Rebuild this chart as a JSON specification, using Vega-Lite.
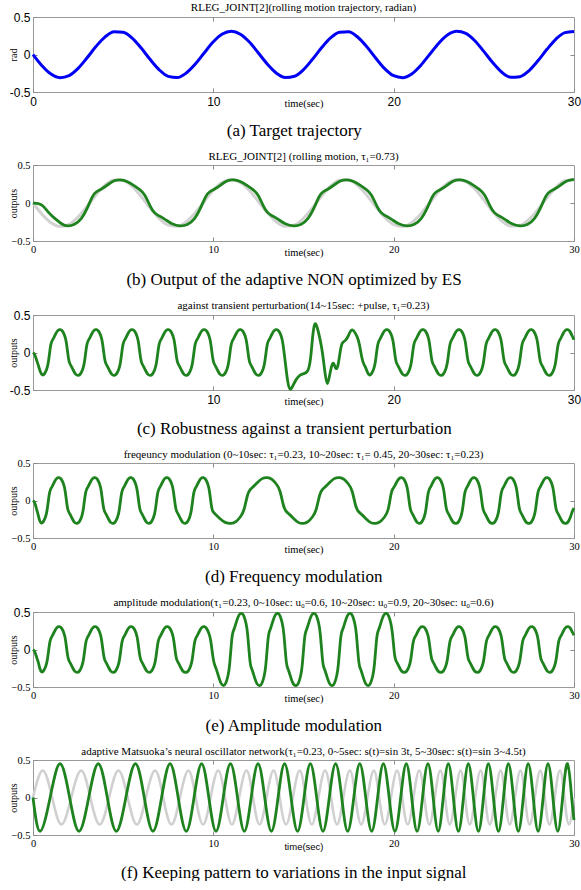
{
"$schema": "https://vega.github.io/schema/vega-lite/v6.json",
"padding": {"left": 7, "top": 1, "right": 0, "bottom": 0},
"spacing": 11,
"config": {
 "view": {"stroke": "#9a9a9a", "strokeWidth": 1},
 "axis": {"domain": false, "grid": false, "tickColor": "#8a8a8a", "tickSize": -4, "labelColor": "#000", "titleColor": "#000", "titleFontWeight": "normal", "labelFlush": false, "labelOverlap": false, "labelBound": false},
 "title": {"color": "#000"}
},
"datasets": {
"a": [{"t":0,"y":0},{"t":0.5,"y":-0.149},{"t":1,"y":-0.261},{"t":1.5,"y":-0.309},{"t":2,"y":-0.282},{"t":2.5,"y":-0.185},{"t":3,"y":-0.044},{"t":3.5,"y":0.109},{"t":4,"y":0.235},{"t":4.5,"y":0.303},{"t":5,"y":0.297},{"t":5.5,"y":0.219},{"t":6,"y":0.086},{"t":6.5,"y":-0.067},{"t":7,"y":-0.204},{"t":7.5,"y":-0.291},{"t":8,"y":-0.307},{"t":8.5,"y":-0.247},{"t":9,"y":-0.128},{"t":9.5,"y":0.023},{"t":10,"y":0.169},{"t":10.5,"y":0.273},{"t":11,"y":0.31},{"t":11.5,"y":0.271},{"t":12,"y":0.166},{"t":12.5,"y":0.02},{"t":13,"y":-0.13},{"t":13.5,"y":-0.249},{"t":14,"y":-0.307},{"t":14.5,"y":-0.29},{"t":15,"y":-0.202},{"t":15.5,"y":-0.064},{"t":16,"y":0.089},{"t":16.5,"y":0.221},{"t":17,"y":0.298},{"t":17.5,"y":0.303},{"t":18,"y":0.233},{"t":18.5,"y":0.106},{"t":19,"y":-0.047},{"t":19.5,"y":-0.188},{"t":20,"y":-0.283},{"t":20.5,"y":-0.309},{"t":21,"y":-0.259},{"t":21.5,"y":-0.146},{"t":22,"y":0.003},{"t":22.5,"y":0.151},{"t":23,"y":0.262},{"t":23.5,"y":0.309},{"t":24,"y":0.281},{"t":24.5,"y":0.184},{"t":25,"y":0.041},{"t":25.5,"y":-0.111},{"t":26,"y":-0.237},{"t":26.5,"y":-0.304},{"t":27,"y":-0.296},{"t":27.5,"y":-0.217},{"t":28,"y":-0.084},{"t":28.5,"y":0.069},{"t":29,"y":0.206},{"t":29.5,"y":0.292},{"t":30,"y":0.306}],
"b": [{"t":0,"y":0},{"t":0.3,"y":-0.005},{"t":0.55,"y":-0.03},{"t":0.8,"y":-0.11},{"t":1.05,"y":-0.17},{"t":1.35,"y":-0.23},{"t":1.6,"y":-0.28},{"t":1.9,"y":-0.31},
{"t":2.3,"y":-0.29},{"t":2.7,"y":-0.21},{"t":3.0,"y":-0.08},{"t":3.3,"y":0.1},{"t":3.5,"y":0.15},{"t":3.8,"y":0.18},{"t":4.2,"y":0.25},{"t":4.5,"y":0.3},{"t":4.85,"y":0.31},{"t":5.2,"y":0.29},{"t":5.6,"y":0.23},{"t":5.9,"y":0.18},{"t":6.2,"y":0.12},{"t":6.5,"y":-0.05},{"t":6.75,"y":-0.14},{"t":7.0,"y":-0.17},{"t":7.3,"y":-0.21},{"t":7.7,"y":-0.28},{"t":8.18,"y":-0.31},
{"t":8.58,"y":-0.29},{"t":8.98,"y":-0.21},{"t":9.28,"y":-0.08},{"t":9.58,"y":0.1},{"t":9.78,"y":0.15},{"t":10.08,"y":0.18},{"t":10.48,"y":0.25},{"t":10.78,"y":0.3},{"t":11.13,"y":0.31},{"t":11.48,"y":0.29},{"t":11.88,"y":0.23},{"t":12.18,"y":0.18},{"t":12.48,"y":0.12},{"t":12.78,"y":-0.05},{"t":13.03,"y":-0.14},{"t":13.28,"y":-0.17},{"t":13.58,"y":-0.21},{"t":13.98,"y":-0.28},{"t":14.47,"y":-0.31},
{"t":14.87,"y":-0.29},{"t":15.27,"y":-0.21},{"t":15.57,"y":-0.08},{"t":15.87,"y":0.1},{"t":16.07,"y":0.15},{"t":16.37,"y":0.18},{"t":16.77,"y":0.25},{"t":17.07,"y":0.3},{"t":17.42,"y":0.31},{"t":17.77,"y":0.29},{"t":18.17,"y":0.23},{"t":18.47,"y":0.18},{"t":18.77,"y":0.12},{"t":19.07,"y":-0.05},{"t":19.32,"y":-0.14},{"t":19.57,"y":-0.17},{"t":19.87,"y":-0.21},{"t":20.27,"y":-0.28},{"t":20.75,"y":-0.31},
{"t":21.15,"y":-0.29},{"t":21.55,"y":-0.21},{"t":21.85,"y":-0.08},{"t":22.15,"y":0.1},{"t":22.35,"y":0.15},{"t":22.65,"y":0.18},{"t":23.05,"y":0.25},{"t":23.35,"y":0.3},{"t":23.7,"y":0.31},{"t":24.05,"y":0.29},{"t":24.45,"y":0.23},{"t":24.75,"y":0.18},{"t":25.05,"y":0.12},{"t":25.35,"y":-0.05},{"t":25.6,"y":-0.14},{"t":25.85,"y":-0.17},{"t":26.15,"y":-0.21},{"t":26.55,"y":-0.28},{"t":27.03,"y":-0.31},
{"t":27.43,"y":-0.29},{"t":27.83,"y":-0.21},{"t":28.13,"y":-0.08},{"t":28.43,"y":0.1},{"t":28.63,"y":0.15},{"t":28.93,"y":0.18},{"t":29.33,"y":0.25},{"t":29.63,"y":0.3},{"t":30,"y":0.31}],
"c": [{"t":0,"y":0},{"t":0.1,"y":-0.02},{"t":0.22,"y":-0.12},{"t":0.3,"y":-0.17},{"t":0.4,"y":-0.26},{"t":0.52,"y":-0.31},
{"t":0.64,"y":-0.29},{"t":0.77,"y":-0.22},{"t":0.85,"y":-0.15},{"t":0.97,"y":0.1},{"t":1.04,"y":0.15},{"t":1.12,"y":0.18},{"t":1.24,"y":0.24},{"t":1.37,"y":0.3},{"t":1.52,"y":0.31},{"t":1.64,"y":0.29},{"t":1.77,"y":0.22},{"t":1.85,"y":0.15},{"t":1.97,"y":-0.1},{"t":2.04,"y":-0.15},{"t":2.12,"y":-0.18},{"t":2.24,"y":-0.24},{"t":2.37,"y":-0.3},{"t":2.52,"y":-0.31},
{"t":2.64,"y":-0.29},{"t":2.77,"y":-0.22},{"t":2.85,"y":-0.15},{"t":2.97,"y":0.1},{"t":3.04,"y":0.15},{"t":3.12,"y":0.18},{"t":3.24,"y":0.24},{"t":3.37,"y":0.3},{"t":3.52,"y":0.31},{"t":3.64,"y":0.29},{"t":3.77,"y":0.22},{"t":3.85,"y":0.15},{"t":3.97,"y":-0.1},{"t":4.04,"y":-0.15},{"t":4.12,"y":-0.18},{"t":4.24,"y":-0.24},{"t":4.37,"y":-0.3},{"t":4.52,"y":-0.31},
{"t":4.64,"y":-0.29},{"t":4.77,"y":-0.22},{"t":4.85,"y":-0.15},{"t":4.97,"y":0.1},{"t":5.04,"y":0.15},{"t":5.12,"y":0.18},{"t":5.24,"y":0.24},{"t":5.37,"y":0.3},{"t":5.52,"y":0.31},{"t":5.64,"y":0.29},{"t":5.77,"y":0.22},{"t":5.85,"y":0.15},{"t":5.97,"y":-0.1},{"t":6.04,"y":-0.15},{"t":6.12,"y":-0.18},{"t":6.24,"y":-0.24},{"t":6.37,"y":-0.3},{"t":6.52,"y":-0.31},
{"t":6.64,"y":-0.29},{"t":6.77,"y":-0.22},{"t":6.85,"y":-0.15},{"t":6.97,"y":0.1},{"t":7.04,"y":0.15},{"t":7.12,"y":0.18},{"t":7.24,"y":0.24},{"t":7.37,"y":0.3},{"t":7.52,"y":0.31},{"t":7.64,"y":0.29},{"t":7.77,"y":0.22},{"t":7.85,"y":0.15},{"t":7.97,"y":-0.1},{"t":8.04,"y":-0.15},{"t":8.12,"y":-0.18},{"t":8.24,"y":-0.24},{"t":8.37,"y":-0.3},{"t":8.52,"y":-0.31},
{"t":8.64,"y":-0.29},{"t":8.77,"y":-0.22},{"t":8.85,"y":-0.15},{"t":8.97,"y":0.1},{"t":9.04,"y":0.15},{"t":9.12,"y":0.18},{"t":9.24,"y":0.24},{"t":9.37,"y":0.3},{"t":9.52,"y":0.31},{"t":9.64,"y":0.29},{"t":9.77,"y":0.22},{"t":9.85,"y":0.15},{"t":9.97,"y":-0.1},{"t":10.04,"y":-0.15},{"t":10.12,"y":-0.18},{"t":10.24,"y":-0.24},{"t":10.37,"y":-0.3},{"t":10.52,"y":-0.31},
{"t":10.64,"y":-0.29},{"t":10.77,"y":-0.22},{"t":10.85,"y":-0.15},{"t":10.97,"y":0.1},{"t":11.04,"y":0.15},{"t":11.12,"y":0.18},{"t":11.24,"y":0.24},{"t":11.37,"y":0.3},{"t":11.52,"y":0.31},{"t":11.64,"y":0.29},{"t":11.77,"y":0.22},{"t":11.85,"y":0.15},{"t":11.97,"y":-0.1},{"t":12.04,"y":-0.15},{"t":12.12,"y":-0.18},{"t":12.24,"y":-0.24},{"t":12.37,"y":-0.3},{"t":12.52,"y":-0.31},
{"t":12.64,"y":-0.29},{"t":12.77,"y":-0.22},{"t":12.85,"y":-0.15},{"t":12.97,"y":0.1},{"t":13.04,"y":0.15},{"t":13.12,"y":0.18},{"t":13.24,"y":0.24},{"t":13.37,"y":0.3},{"t":13.52,"y":0.31},
{"t":13.64,"y":0.29},{"t":13.77,"y":0.22},{"t":13.85,"y":0.15},{"t":14.0,"y":-0.15},{"t":14.12,"y":-0.4},{"t":14.25,"y":-0.52},{"t":14.4,"y":-0.45},{"t":14.6,"y":-0.35},{"t":14.8,"y":-0.3},{"t":15.0,"y":-0.28},{"t":15.25,"y":-0.27},{"t":15.4,"y":-0.1},{"t":15.5,"y":0.22},{"t":15.62,"y":0.42},{"t":15.75,"y":0.35},{"t":15.9,"y":0.2},{"t":16.05,"y":0.02},{"t":16.2,"y":-0.3},{"t":16.32,"y":-0.47},{"t":16.45,"y":-0.3},{"t":16.58,"y":-0.15},{"t":16.68,"y":-0.13},{"t":16.8,"y":-0.24},{"t":16.92,"y":-0.19},{"t":17.05,"y":0.05},{"t":17.15,"y":0.14},{"t":17.3,"y":0.15},{"t":17.45,"y":0.2},{"t":17.6,"y":0.29},{"t":17.72,"y":0.31},{"t":17.85,"y":0.27},{"t":18.0,"y":0.2},{"t":18.1,"y":0.12},{"t":18.25,"y":-0.1},{"t":18.35,"y":-0.16},{"t":18.45,"y":-0.2},{"t":18.55,"y":-0.27},{"t":18.65,"y":-0.31},
{"t":18.77,"y":-0.29},{"t":18.9,"y":-0.22},{"t":18.98,"y":-0.15},{"t":19.1,"y":0.1},{"t":19.17,"y":0.15},{"t":19.25,"y":0.18},{"t":19.37,"y":0.24},{"t":19.5,"y":0.3},{"t":19.65,"y":0.31},{"t":19.77,"y":0.29},{"t":19.9,"y":0.22},{"t":19.98,"y":0.15},{"t":20.1,"y":-0.1},{"t":20.17,"y":-0.15},{"t":20.25,"y":-0.18},{"t":20.37,"y":-0.24},{"t":20.5,"y":-0.3},{"t":20.65,"y":-0.31},
{"t":20.77,"y":-0.29},{"t":20.9,"y":-0.22},{"t":20.98,"y":-0.15},{"t":21.1,"y":0.1},{"t":21.17,"y":0.15},{"t":21.25,"y":0.18},{"t":21.37,"y":0.24},{"t":21.5,"y":0.3},{"t":21.65,"y":0.31},{"t":21.77,"y":0.29},{"t":21.9,"y":0.22},{"t":21.98,"y":0.15},{"t":22.1,"y":-0.1},{"t":22.17,"y":-0.15},{"t":22.25,"y":-0.18},{"t":22.37,"y":-0.24},{"t":22.5,"y":-0.3},{"t":22.65,"y":-0.31},
{"t":22.77,"y":-0.29},{"t":22.9,"y":-0.22},{"t":22.98,"y":-0.15},{"t":23.1,"y":0.1},{"t":23.17,"y":0.15},{"t":23.25,"y":0.18},{"t":23.37,"y":0.24},{"t":23.5,"y":0.3},{"t":23.65,"y":0.31},{"t":23.77,"y":0.29},{"t":23.9,"y":0.22},{"t":23.98,"y":0.15},{"t":24.1,"y":-0.1},{"t":24.17,"y":-0.15},{"t":24.25,"y":-0.18},{"t":24.37,"y":-0.24},{"t":24.5,"y":-0.3},{"t":24.65,"y":-0.31},
{"t":24.77,"y":-0.29},{"t":24.9,"y":-0.22},{"t":24.98,"y":-0.15},{"t":25.1,"y":0.1},{"t":25.17,"y":0.15},{"t":25.25,"y":0.18},{"t":25.37,"y":0.24},{"t":25.5,"y":0.3},{"t":25.65,"y":0.31},{"t":25.77,"y":0.29},{"t":25.9,"y":0.22},{"t":25.98,"y":0.15},{"t":26.1,"y":-0.1},{"t":26.17,"y":-0.15},{"t":26.25,"y":-0.18},{"t":26.37,"y":-0.24},{"t":26.5,"y":-0.3},{"t":26.65,"y":-0.31},
{"t":26.77,"y":-0.29},{"t":26.9,"y":-0.22},{"t":26.98,"y":-0.15},{"t":27.1,"y":0.1},{"t":27.17,"y":0.15},{"t":27.25,"y":0.18},{"t":27.37,"y":0.24},{"t":27.5,"y":0.3},{"t":27.65,"y":0.31},{"t":27.77,"y":0.29},{"t":27.9,"y":0.22},{"t":27.98,"y":0.15},{"t":28.1,"y":-0.1},{"t":28.17,"y":-0.15},{"t":28.25,"y":-0.18},{"t":28.37,"y":-0.24},{"t":28.5,"y":-0.3},{"t":28.65,"y":-0.31},
{"t":28.77,"y":-0.29},{"t":28.9,"y":-0.22},{"t":28.98,"y":-0.15},{"t":29.1,"y":0.1},{"t":29.17,"y":0.15},{"t":29.25,"y":0.18},{"t":29.37,"y":0.24},{"t":29.5,"y":0.3},{"t":29.65,"y":0.31},{"t":29.77,"y":0.29},{"t":29.9,"y":0.22},{"t":30,"y":0.17}],
"d": [{"t":0,"y":0},{"t":0.1,"y":-0.02},{"t":0.2,"y":-0.12},{"t":0.28,"y":-0.18},{"t":0.36,"y":-0.27},{"t":0.45,"y":-0.31},
{"t":0.57,"y":-0.29},{"t":0.7,"y":-0.22},{"t":0.78,"y":-0.15},{"t":0.9,"y":0.1},{"t":0.97,"y":0.15},{"t":1.05,"y":0.18},{"t":1.17,"y":0.24},{"t":1.3,"y":0.3},{"t":1.45,"y":0.31},{"t":1.57,"y":0.29},{"t":1.7,"y":0.22},{"t":1.78,"y":0.15},{"t":1.9,"y":-0.1},{"t":1.97,"y":-0.15},{"t":2.05,"y":-0.18},{"t":2.17,"y":-0.24},{"t":2.3,"y":-0.3},{"t":2.45,"y":-0.31},
{"t":2.57,"y":-0.29},{"t":2.7,"y":-0.22},{"t":2.78,"y":-0.15},{"t":2.9,"y":0.1},{"t":2.97,"y":0.15},{"t":3.05,"y":0.18},{"t":3.17,"y":0.24},{"t":3.3,"y":0.3},{"t":3.45,"y":0.31},{"t":3.57,"y":0.29},{"t":3.7,"y":0.22},{"t":3.78,"y":0.15},{"t":3.9,"y":-0.1},{"t":3.97,"y":-0.15},{"t":4.05,"y":-0.18},{"t":4.17,"y":-0.24},{"t":4.3,"y":-0.3},{"t":4.45,"y":-0.31},
{"t":4.57,"y":-0.29},{"t":4.7,"y":-0.22},{"t":4.78,"y":-0.15},{"t":4.9,"y":0.1},{"t":4.97,"y":0.15},{"t":5.05,"y":0.18},{"t":5.17,"y":0.24},{"t":5.3,"y":0.3},{"t":5.45,"y":0.31},{"t":5.57,"y":0.29},{"t":5.7,"y":0.22},{"t":5.78,"y":0.15},{"t":5.9,"y":-0.1},{"t":5.97,"y":-0.15},{"t":6.05,"y":-0.18},{"t":6.17,"y":-0.24},{"t":6.3,"y":-0.3},{"t":6.45,"y":-0.31},
{"t":6.57,"y":-0.29},{"t":6.7,"y":-0.22},{"t":6.78,"y":-0.15},{"t":6.9,"y":0.1},{"t":6.97,"y":0.15},{"t":7.05,"y":0.18},{"t":7.17,"y":0.24},{"t":7.3,"y":0.3},{"t":7.45,"y":0.31},{"t":7.57,"y":0.29},{"t":7.7,"y":0.22},{"t":7.78,"y":0.15},{"t":7.9,"y":-0.1},{"t":7.97,"y":-0.15},{"t":8.05,"y":-0.18},{"t":8.17,"y":-0.24},{"t":8.3,"y":-0.3},{"t":8.45,"y":-0.31},
{"t":8.57,"y":-0.29},{"t":8.7,"y":-0.22},{"t":8.78,"y":-0.15},{"t":8.9,"y":0.1},{"t":8.97,"y":0.15},{"t":9.05,"y":0.18},{"t":9.17,"y":0.24},{"t":9.3,"y":0.3},{"t":9.45,"y":0.31},
{"t":9.57,"y":0.29},{"t":9.7,"y":0.22},{"t":9.78,"y":0.15},{"t":9.9,"y":-0.1},{"t":9.97,"y":-0.15},{"t":10.1,"y":-0.18},{"t":10.35,"y":-0.24},{"t":10.65,"y":-0.3},{"t":11.0,"y":-0.31},
{"t":11.25,"y":-0.29},{"t":11.5,"y":-0.22},{"t":11.7,"y":-0.15},{"t":11.9,"y":0.1},{"t":12.05,"y":0.15},{"t":12.2,"y":0.18},{"t":12.45,"y":0.24},{"t":12.7,"y":0.3},{"t":13.0,"y":0.31},{"t":13.25,"y":0.29},{"t":13.5,"y":0.22},{"t":13.7,"y":0.15},{"t":13.9,"y":-0.1},{"t":14.05,"y":-0.15},{"t":14.2,"y":-0.18},{"t":14.45,"y":-0.24},{"t":14.7,"y":-0.3},{"t":15.0,"y":-0.31},
{"t":15.25,"y":-0.29},{"t":15.5,"y":-0.22},{"t":15.7,"y":-0.15},{"t":15.9,"y":0.1},{"t":16.05,"y":0.15},{"t":16.2,"y":0.18},{"t":16.45,"y":0.24},{"t":16.7,"y":0.3},{"t":17.0,"y":0.31},{"t":17.25,"y":0.29},{"t":17.5,"y":0.22},{"t":17.7,"y":0.15},{"t":17.9,"y":-0.1},{"t":18.05,"y":-0.15},{"t":18.2,"y":-0.18},{"t":18.45,"y":-0.24},{"t":18.7,"y":-0.3},{"t":19.0,"y":-0.31},
{"t":19.25,"y":-0.29},{"t":19.5,"y":-0.22},{"t":19.7,"y":-0.15},{"t":19.85,"y":0.1},{"t":19.93,"y":0.15},{"t":20.03,"y":0.18},{"t":20.15,"y":0.24},{"t":20.3,"y":0.3},{"t":20.45,"y":0.31},
{"t":20.57,"y":0.29},{"t":20.7,"y":0.22},{"t":20.78,"y":0.15},{"t":20.9,"y":-0.1},{"t":20.97,"y":-0.15},{"t":21.05,"y":-0.18},{"t":21.17,"y":-0.24},{"t":21.3,"y":-0.3},{"t":21.45,"y":-0.31},
{"t":21.57,"y":-0.29},{"t":21.7,"y":-0.22},{"t":21.78,"y":-0.15},{"t":21.9,"y":0.1},{"t":21.97,"y":0.15},{"t":22.05,"y":0.18},{"t":22.17,"y":0.24},{"t":22.3,"y":0.3},{"t":22.45,"y":0.31},{"t":22.57,"y":0.29},{"t":22.7,"y":0.22},{"t":22.78,"y":0.15},{"t":22.9,"y":-0.1},{"t":22.97,"y":-0.15},{"t":23.05,"y":-0.18},{"t":23.17,"y":-0.24},{"t":23.3,"y":-0.3},{"t":23.48,"y":-0.31},
{"t":23.6,"y":-0.29},{"t":23.73,"y":-0.22},{"t":23.81,"y":-0.15},{"t":23.93,"y":0.1},{"t":24.0,"y":0.15},{"t":24.08,"y":0.18},{"t":24.2,"y":0.24},{"t":24.33,"y":0.3},{"t":24.48,"y":0.31},{"t":24.6,"y":0.29},{"t":24.73,"y":0.22},{"t":24.81,"y":0.15},{"t":24.93,"y":-0.1},{"t":25.0,"y":-0.15},{"t":25.08,"y":-0.18},{"t":25.2,"y":-0.24},{"t":25.33,"y":-0.3},{"t":25.5,"y":-0.31},
{"t":25.62,"y":-0.29},{"t":25.75,"y":-0.22},{"t":25.83,"y":-0.15},{"t":25.95,"y":0.1},{"t":26.02,"y":0.15},{"t":26.1,"y":0.18},{"t":26.22,"y":0.24},{"t":26.35,"y":0.3},{"t":26.5,"y":0.31},{"t":26.62,"y":0.29},{"t":26.75,"y":0.22},{"t":26.83,"y":0.15},{"t":26.95,"y":-0.1},{"t":27.02,"y":-0.15},{"t":27.1,"y":-0.18},{"t":27.22,"y":-0.24},{"t":27.35,"y":-0.3},{"t":27.53,"y":-0.31},
{"t":27.65,"y":-0.29},{"t":27.78,"y":-0.22},{"t":27.86,"y":-0.15},{"t":27.98,"y":0.1},{"t":28.05,"y":0.15},{"t":28.13,"y":0.18},{"t":28.25,"y":0.24},{"t":28.38,"y":0.3},{"t":28.53,"y":0.31},{"t":28.65,"y":0.29},{"t":28.78,"y":0.22},{"t":28.86,"y":0.15},{"t":28.98,"y":-0.1},{"t":29.05,"y":-0.15},{"t":29.13,"y":-0.18},{"t":29.25,"y":-0.24},{"t":29.38,"y":-0.3},{"t":29.56,"y":-0.31},
{"t":29.68,"y":-0.29},{"t":29.81,"y":-0.22},{"t":29.89,"y":-0.15},{"t":30,"y":-0.1}],
"e": [{"t":0,"y":0},{"t":0.1,"y":-0.02},{"t":0.22,"y":-0.12},{"t":0.3,"y":-0.17},{"t":0.38,"y":-0.26},{"t":0.47,"y":-0.31},
{"t":0.59,"y":-0.29},{"t":0.72,"y":-0.22},{"t":0.8,"y":-0.15},{"t":0.92,"y":0.1},{"t":0.99,"y":0.15},{"t":1.07,"y":0.18},{"t":1.19,"y":0.24},{"t":1.32,"y":0.3},{"t":1.47,"y":0.31},{"t":1.59,"y":0.29},{"t":1.72,"y":0.22},{"t":1.8,"y":0.15},{"t":1.92,"y":-0.1},{"t":1.99,"y":-0.15},{"t":2.07,"y":-0.18},{"t":2.19,"y":-0.24},{"t":2.32,"y":-0.3},{"t":2.47,"y":-0.31},
{"t":2.59,"y":-0.29},{"t":2.72,"y":-0.22},{"t":2.8,"y":-0.15},{"t":2.92,"y":0.1},{"t":2.99,"y":0.15},{"t":3.07,"y":0.18},{"t":3.19,"y":0.24},{"t":3.32,"y":0.3},{"t":3.47,"y":0.31},{"t":3.59,"y":0.29},{"t":3.72,"y":0.22},{"t":3.8,"y":0.15},{"t":3.92,"y":-0.1},{"t":3.99,"y":-0.15},{"t":4.07,"y":-0.18},{"t":4.19,"y":-0.24},{"t":4.32,"y":-0.3},{"t":4.47,"y":-0.31},
{"t":4.59,"y":-0.29},{"t":4.72,"y":-0.22},{"t":4.8,"y":-0.15},{"t":4.92,"y":0.1},{"t":4.99,"y":0.15},{"t":5.07,"y":0.18},{"t":5.19,"y":0.24},{"t":5.32,"y":0.3},{"t":5.47,"y":0.31},{"t":5.59,"y":0.29},{"t":5.72,"y":0.22},{"t":5.8,"y":0.15},{"t":5.92,"y":-0.1},{"t":5.99,"y":-0.15},{"t":6.07,"y":-0.18},{"t":6.19,"y":-0.24},{"t":6.32,"y":-0.3},{"t":6.47,"y":-0.31},
{"t":6.59,"y":-0.29},{"t":6.72,"y":-0.22},{"t":6.8,"y":-0.15},{"t":6.92,"y":0.1},{"t":6.99,"y":0.15},{"t":7.07,"y":0.18},{"t":7.19,"y":0.24},{"t":7.32,"y":0.3},{"t":7.47,"y":0.31},{"t":7.59,"y":0.29},{"t":7.72,"y":0.22},{"t":7.8,"y":0.15},{"t":7.92,"y":-0.1},{"t":7.99,"y":-0.15},{"t":8.07,"y":-0.18},{"t":8.19,"y":-0.24},{"t":8.32,"y":-0.3},{"t":8.5,"y":-0.31},
{"t":8.62,"y":-0.29},{"t":8.75,"y":-0.22},{"t":8.83,"y":-0.15},{"t":8.95,"y":0.1},{"t":9.02,"y":0.15},{"t":9.1,"y":0.18},{"t":9.22,"y":0.24},{"t":9.35,"y":0.3},{"t":9.5,"y":0.31},
{"t":9.62,"y":0.29},{"t":9.75,"y":0.22},{"t":9.85,"y":0.15},{"t":9.98,"y":-0.12},{"t":10.06,"y":-0.2},{"t":10.15,"y":-0.25},{"t":10.28,"y":-0.35},{"t":10.42,"y":-0.46},{"t":10.57,"y":-0.49},
{"t":10.69,"y":-0.46},{"t":10.82,"y":-0.35},{"t":10.9,"y":-0.24},{"t":11.02,"y":0.16},{"t":11.09,"y":0.24},{"t":11.17,"y":0.28},{"t":11.29,"y":0.38},{"t":11.42,"y":0.47},{"t":11.57,"y":0.49},{"t":11.69,"y":0.46},{"t":11.82,"y":0.35},{"t":11.9,"y":0.24},{"t":12.02,"y":-0.16},{"t":12.09,"y":-0.24},{"t":12.17,"y":-0.28},{"t":12.29,"y":-0.38},{"t":12.42,"y":-0.47},{"t":12.58,"y":-0.49},
{"t":12.7,"y":-0.46},{"t":12.83,"y":-0.35},{"t":12.91,"y":-0.24},{"t":13.03,"y":0.16},{"t":13.1,"y":0.24},{"t":13.18,"y":0.28},{"t":13.3,"y":0.38},{"t":13.43,"y":0.47},{"t":13.58,"y":0.49},{"t":13.7,"y":0.46},{"t":13.83,"y":0.35},{"t":13.91,"y":0.24},{"t":14.03,"y":-0.16},{"t":14.1,"y":-0.24},{"t":14.18,"y":-0.28},{"t":14.3,"y":-0.38},{"t":14.43,"y":-0.47},{"t":14.6,"y":-0.49},
{"t":14.72,"y":-0.46},{"t":14.85,"y":-0.35},{"t":14.93,"y":-0.24},{"t":15.05,"y":0.16},{"t":15.12,"y":0.24},{"t":15.2,"y":0.28},{"t":15.32,"y":0.38},{"t":15.45,"y":0.47},{"t":15.6,"y":0.49},{"t":15.72,"y":0.46},{"t":15.85,"y":0.35},{"t":15.93,"y":0.24},{"t":16.05,"y":-0.16},{"t":16.12,"y":-0.24},{"t":16.2,"y":-0.28},{"t":16.32,"y":-0.38},{"t":16.45,"y":-0.47},{"t":16.6,"y":-0.49},
{"t":16.72,"y":-0.46},{"t":16.85,"y":-0.35},{"t":16.93,"y":-0.24},{"t":17.05,"y":0.16},{"t":17.12,"y":0.24},{"t":17.2,"y":0.28},{"t":17.32,"y":0.38},{"t":17.45,"y":0.47},{"t":17.6,"y":0.49},{"t":17.72,"y":0.46},{"t":17.85,"y":0.35},{"t":17.93,"y":0.24},{"t":18.05,"y":-0.16},{"t":18.12,"y":-0.24},{"t":18.2,"y":-0.28},{"t":18.32,"y":-0.38},{"t":18.45,"y":-0.47},{"t":18.6,"y":-0.49},
{"t":18.72,"y":-0.46},{"t":18.85,"y":-0.35},{"t":18.93,"y":-0.24},{"t":19.05,"y":0.16},{"t":19.12,"y":0.24},{"t":19.2,"y":0.28},{"t":19.32,"y":0.38},{"t":19.45,"y":0.47},{"t":19.6,"y":0.49},
{"t":19.72,"y":0.46},{"t":19.85,"y":0.35},{"t":19.93,"y":0.24},{"t":20.05,"y":-0.1},{"t":20.12,"y":-0.15},{"t":20.2,"y":-0.18},{"t":20.32,"y":-0.24},{"t":20.45,"y":-0.3},{"t":20.62,"y":-0.31},
{"t":20.74,"y":-0.29},{"t":20.87,"y":-0.22},{"t":20.95,"y":-0.15},{"t":21.07,"y":0.1},{"t":21.14,"y":0.15},{"t":21.22,"y":0.18},{"t":21.34,"y":0.24},{"t":21.47,"y":0.3},{"t":21.62,"y":0.31},{"t":21.74,"y":0.29},{"t":21.87,"y":0.22},{"t":21.95,"y":0.15},{"t":22.07,"y":-0.1},{"t":22.14,"y":-0.15},{"t":22.22,"y":-0.18},{"t":22.34,"y":-0.24},{"t":22.47,"y":-0.3},{"t":22.65,"y":-0.31},
{"t":22.77,"y":-0.29},{"t":22.9,"y":-0.22},{"t":22.98,"y":-0.15},{"t":23.1,"y":0.1},{"t":23.17,"y":0.15},{"t":23.25,"y":0.18},{"t":23.37,"y":0.24},{"t":23.5,"y":0.3},{"t":23.65,"y":0.31},{"t":23.77,"y":0.29},{"t":23.9,"y":0.22},{"t":23.98,"y":0.15},{"t":24.1,"y":-0.1},{"t":24.17,"y":-0.15},{"t":24.25,"y":-0.18},{"t":24.37,"y":-0.24},{"t":24.5,"y":-0.3},{"t":24.67,"y":-0.31},
{"t":24.79,"y":-0.29},{"t":24.92,"y":-0.22},{"t":25.0,"y":-0.15},{"t":25.12,"y":0.1},{"t":25.19,"y":0.15},{"t":25.27,"y":0.18},{"t":25.39,"y":0.24},{"t":25.52,"y":0.3},{"t":25.67,"y":0.31},{"t":25.79,"y":0.29},{"t":25.92,"y":0.22},{"t":26.0,"y":0.15},{"t":26.12,"y":-0.1},{"t":26.19,"y":-0.15},{"t":26.27,"y":-0.18},{"t":26.39,"y":-0.24},{"t":26.52,"y":-0.3},{"t":26.68,"y":-0.31},
{"t":26.8,"y":-0.29},{"t":26.93,"y":-0.22},{"t":27.01,"y":-0.15},{"t":27.13,"y":0.1},{"t":27.2,"y":0.15},{"t":27.28,"y":0.18},{"t":27.4,"y":0.24},{"t":27.53,"y":0.3},{"t":27.68,"y":0.31},{"t":27.8,"y":0.29},{"t":27.93,"y":0.22},{"t":28.01,"y":0.15},{"t":28.13,"y":-0.1},{"t":28.2,"y":-0.15},{"t":28.28,"y":-0.18},{"t":28.4,"y":-0.24},{"t":28.53,"y":-0.3},{"t":28.68,"y":-0.31},
{"t":28.8,"y":-0.29},{"t":28.93,"y":-0.22},{"t":29.01,"y":-0.15},{"t":29.13,"y":0.1},{"t":29.2,"y":0.15},{"t":29.28,"y":0.18},{"t":29.4,"y":0.24},{"t":29.53,"y":0.3},{"t":29.68,"y":0.31},{"t":29.8,"y":0.29},{"t":29.93,"y":0.22},{"t":30,"y":0.19}],
"f": [{"t":0,"y":0},{"t":0.39,"y":-0.45},{"t":0.95,"y":0},{"t":1.5,"y":0.45},{"t":2.03,"y":0},{"t":2.55,"y":-0.45},{"t":3.09,"y":0},{"t":3.62,"y":0.45},{"t":4.12,"y":0},{"t":4.62,"y":-0.45},{"t":5.15,"y":0},{"t":5.68,"y":0.45},{"t":6.17,"y":0},{"t":6.65,"y":-0.45},{"t":7.13,"y":0},{"t":7.6,"y":0.45},{"t":8.05,"y":0},{"t":8.5,"y":-0.45},{"t":8.93,"y":0},{"t":9.35,"y":0.45},{"t":9.75,"y":0},{"t":10.15,"y":-0.45},{"t":10.55,"y":0},{"t":10.95,"y":0.45},{"t":11.34,"y":0},{"t":11.72,"y":-0.45},{"t":12.1,"y":0},{"t":12.48,"y":0.45},{"t":12.85,"y":0},{"t":13.22,"y":-0.45},{"t":13.59,"y":0},{"t":13.95,"y":0.45},{"t":14.31,"y":0},{"t":14.67,"y":-0.45},{"t":15.03,"y":0},{"t":15.38,"y":0.45},{"t":15.73,"y":0},{"t":16.08,"y":-0.45},{"t":16.43,"y":0},{"t":16.78,"y":0.45},{"t":17.12,"y":0},{"t":17.45,"y":-0.45},{"t":17.79,"y":0},{"t":18.12,"y":0.45},{"t":18.45,"y":0},{"t":18.78,"y":-0.45},{"t":19.11,"y":0},{"t":19.43,"y":0.45},{"t":19.75,"y":0},{"t":20.07,"y":-0.45},{"t":20.39,"y":0},{"t":20.7,"y":0.45},{"t":21.0,"y":0},{"t":21.3,"y":-0.45},{"t":21.6,"y":0},{"t":21.9,"y":0.45},{"t":22.19,"y":0},{"t":22.47,"y":-0.45},{"t":22.75,"y":0},{"t":23.03,"y":0.45},{"t":23.31,"y":0},{"t":23.59,"y":-0.45},{"t":23.87,"y":0},{"t":24.14,"y":0.45},{"t":24.42,"y":0},{"t":24.7,"y":-0.45},{"t":24.98,"y":0},{"t":25.25,"y":0.45},{"t":25.53,"y":0},{"t":25.81,"y":-0.45},{"t":26.09,"y":0},{"t":26.36,"y":0.45},{"t":26.64,"y":0},{"t":26.91,"y":-0.45},{"t":27.19,"y":0},{"t":27.46,"y":0.45},{"t":27.74,"y":0},{"t":28.01,"y":-0.45},{"t":28.29,"y":0},{"t":28.56,"y":0.45},{"t":28.83,"y":0},{"t":29.1,"y":-0.45},{"t":29.37,"y":0},{"t":29.64,"y":0.45},{"t":29.87,"y":0},{"t":30,"y":-0.3}],
"g": [{"t":0,"y":0},{"t":0.54,"y":0.36},{"t":1.06,"y":0},{"t":1.58,"y":-0.36},{"t":2.12,"y":0},{"t":2.67,"y":0.36},{"t":3.18,"y":0},{"t":3.7,"y":-0.36},{"t":4.22,"y":0},{"t":4.74,"y":0.36},{"t":5.25,"y":0},{"t":5.76,"y":-0.36},{"t":6.26,"y":0},{"t":6.77,"y":0.36},{"t":7.22,"y":0},{"t":7.68,"y":-0.36},{"t":8.15,"y":0},{"t":8.62,"y":0.36},{"t":9.02,"y":0},{"t":9.43,"y":-0.36},{"t":9.85,"y":0},{"t":10.27,"y":0.36},{"t":10.65,"y":0},{"t":11.03,"y":-0.36},{"t":11.43,"y":0},{"t":11.84,"y":0.36},{"t":12.2,"y":0},{"t":12.56,"y":-0.36},{"t":12.95,"y":0},{"t":13.34,"y":0.36},{"t":13.68,"y":0},{"t":14.03,"y":-0.36},{"t":14.41,"y":0},{"t":14.79,"y":0.36},{"t":15.12,"y":0},{"t":15.46,"y":-0.36},{"t":15.83,"y":0},{"t":16.2,"y":0.36},{"t":16.53,"y":0},{"t":16.86,"y":-0.36},{"t":17.21,"y":0},{"t":17.57,"y":0.36},{"t":17.88,"y":0},{"t":18.2,"y":-0.36},{"t":18.55,"y":0},{"t":18.9,"y":0.36},{"t":19.2,"y":0},{"t":19.51,"y":-0.36},{"t":19.85,"y":0},{"t":20.19,"y":0.36},{"t":20.48,"y":0},{"t":20.78,"y":-0.36},{"t":21.1,"y":0},{"t":21.42,"y":0.36},{"t":21.7,"y":0},{"t":21.98,"y":-0.36},{"t":22.28,"y":0},{"t":22.59,"y":0.36},{"t":22.85,"y":0},{"t":23.11,"y":-0.36},{"t":23.41,"y":0},{"t":23.71,"y":0.36},{"t":23.96,"y":0},{"t":24.22,"y":-0.36},{"t":24.52,"y":0},{"t":24.82,"y":0.36},{"t":25.07,"y":0},{"t":25.33,"y":-0.36},{"t":25.63,"y":0},{"t":25.93,"y":0.36},{"t":26.18,"y":0},{"t":26.44,"y":-0.36},{"t":26.73,"y":0},{"t":27.03,"y":0.36},{"t":27.28,"y":0},{"t":27.54,"y":-0.36},{"t":27.83,"y":0},{"t":28.13,"y":0.36},{"t":28.38,"y":0},{"t":28.64,"y":-0.36},{"t":28.93,"y":0},{"t":29.22,"y":0.36},{"t":29.47,"y":0},{"t":29.72,"y":-0.36},{"t":30,"y":0}]
},
"vconcat": [
{
 "title": {"text": "(a) Target trajectory", "orient": "bottom", "anchor": "middle", "font": "Liberation Serif", "fontSize": 17, "fontWeight": "normal", "offset": 14},
 "vconcat": [{
  "width": 541, "height": 75,
  "title": {"text": "RLEG_JOINT[2](rolling motion trajectory, radian)", "font": "Liberation Serif", "fontSize": 11, "fontWeight": "normal", "offset": -2, "frame": "group", "anchor": "middle"},
  "layer": [
   {"data": {"name": "a"}, "mark": {"type": "line", "color": "#0000f5", "strokeWidth": 3, "interpolate": "monotone"},
    "encoding": {
     "x": {"field": "t", "type": "quantitative", "scale": {"domain": [0, 30], "nice": false, "zero": false}, "axis": {"orient": "bottom", "values": [0, 10, 20, 30], "labelFont": "Liberation Sans", "labelFontSize": 12, "labelPadding": 8, "title": "time(sec)", "titleFont": "Liberation Serif", "titleFontSize": 10.5, "titleY": 11, "titleBaseline": "middle"}},
     "y": {"field": "y", "type": "quantitative", "scale": {"domain": [-0.5, 0.5], "nice": false}, "axis": {"orient": "left", "values": [-0.5, 0, 0.5], "labelExpr": "datum.value == 0 ? '0' : (datum.value > 0 ? '0.5' : '-0.5')", "labelFont": "Liberation Sans", "labelFontSize": 12, "labelPadding": 7, "title": "rad", "titleFont": "Liberation Serif", "titleFontSize": 10, "titleX": -20, "titleY": 37.5, "titleBaseline": "middle"}}}},
   {"data": {"name": "a"}, "mark": {"type": "line", "opacity": 0},
    "encoding": {
     "x": {"field": "t", "type": "quantitative", "axis": {"orient": "top", "values": [10, 20], "labels": false, "title": null}},
     "y": {"field": "y", "type": "quantitative", "axis": {"orient": "right", "values": [0], "labels": false, "title": null}}}}
  ],
  "resolve": {"axis": {"x": "independent", "y": "independent"}}
 }]
},
{
 "title": {"text": "(b) Output of the adaptive NON optimized by ES", "orient": "bottom", "anchor": "middle", "font": "Liberation Serif", "fontSize": 17, "fontWeight": "normal", "offset": 14},
 "vconcat": [{
  "width": 541, "height": 76,
  "title": {"text": "RLEG_JOINT[2] (rolling motion, τ₁=0.73)", "font": "Liberation Serif", "fontSize": 11, "fontWeight": "normal", "offset": -2, "frame": "group", "anchor": "middle"},
  "layer": [
   {"data": {"name": "a"}, "mark": {"type": "line", "color": "#d2d2d2", "strokeWidth": 3, "interpolate": "monotone"},
    "encoding": {
     "x": {"field": "t", "type": "quantitative", "scale": {"domain": [0, 30], "nice": false, "zero": false}, "axis": {"orient": "bottom", "values": [0, 10, 20, 30], "labelFont": "Liberation Serif", "labelFontSize": 10.5, "labelPadding": 7, "title": "time(sec)", "titleFont": "Liberation Serif", "titleFontSize": 10.5, "titleY": 11, "titleBaseline": "middle"}},
     "y": {"field": "y", "type": "quantitative", "scale": {"domain": [-0.5, 0.5], "nice": false}, "axis": {"orient": "left", "values": [-0.5, 0, 0.5], "labelExpr": "datum.value == 0 ? '0' : (datum.value > 0 ? '0.5' : '−0.5')", "labelFont": "Liberation Serif", "labelFontSize": 10.5, "labelPadding": 7, "title": "outputs", "titleFont": "Liberation Serif", "titleFontSize": 10, "titleX": -20, "titleY": 38, "titleBaseline": "middle"}}}},
   {"data": {"name": "b"}, "mark": {"type": "line", "color": "#1e821e", "strokeWidth": 2.8, "interpolate": "basis"},
    "encoding": {
     "x": {"field": "t", "type": "quantitative", "axis": {"orient": "top", "values": [10, 20], "labels": false, "title": null}},
     "y": {"field": "y", "type": "quantitative", "axis": {"orient": "right", "values": [0], "labels": false, "title": null}}}}
  ],
  "resolve": {"axis": {"x": "independent", "y": "independent"}}
 }]
},
{
 "title": {"text": "(c) Robustness against a transient perturbation", "orient": "bottom", "anchor": "middle", "font": "Liberation Serif", "fontSize": 17, "fontWeight": "normal", "offset": 14},
 "vconcat": [{
  "width": 541, "height": 75,
  "title": {"text": "against transient perturbation(14~15sec: +pulse, τ₁=0.23)", "font": "Liberation Serif", "fontSize": 11, "fontWeight": "normal", "offset": -2, "frame": "group", "anchor": "middle"},
  "layer": [
   {"data": {"name": "c"}, "mark": {"type": "line", "color": "#1e821e", "strokeWidth": 2.8, "interpolate": "basis"},
    "encoding": {
     "x": {"field": "t", "type": "quantitative", "scale": {"domain": [0, 30], "nice": false, "zero": false}, "axis": {"orient": "bottom", "values": [10, 20, 30], "labelFont": "Liberation Sans", "labelFontSize": 12, "labelPadding": 8, "title": "time(sec)", "titleFont": "Liberation Serif", "titleFontSize": 10.5, "titleY": 11, "titleBaseline": "middle"}},
     "y": {"field": "y", "type": "quantitative", "scale": {"domain": [-0.5, 0.5], "nice": false}, "axis": {"orient": "left", "values": [-0.5, 0, 0.5], "labelExpr": "datum.value == 0 ? '0' : (datum.value > 0 ? '0.5' : '-0.5')", "labelFont": "Liberation Sans", "labelFontSize": 12, "labelPadding": 7, "title": "outputs", "titleFont": "Liberation Serif", "titleFontSize": 10, "titleX": -20, "titleY": 37.5, "titleBaseline": "middle"}}}},
   {"data": {"name": "c"}, "mark": {"type": "line", "opacity": 0},
    "encoding": {
     "x": {"field": "t", "type": "quantitative", "axis": {"orient": "top", "values": [10, 20], "labels": false, "title": null}},
     "y": {"field": "y", "type": "quantitative", "axis": {"orient": "right", "values": [0], "labels": false, "title": null}}}}
  ],
  "resolve": {"axis": {"x": "independent", "y": "independent"}}
 }]
},
{
 "title": {"text": "(d) Frequency modulation", "orient": "bottom", "anchor": "middle", "font": "Liberation Serif", "fontSize": 17, "fontWeight": "normal", "offset": 14},
 "vconcat": [{
  "width": 541, "height": 75,
  "title": {"text": "freqeuncy modulation (0~10sec: τ₁=0.23, 10~20sec: τ₁= 0.45, 20~30sec: τ₁=0.23)", "font": "Liberation Serif", "fontSize": 11, "fontWeight": "normal", "offset": -2, "frame": "group", "anchor": "middle"},
  "layer": [
   {"data": {"name": "d"}, "mark": {"type": "line", "color": "#1e821e", "strokeWidth": 2.8, "interpolate": "basis"},
    "encoding": {
     "x": {"field": "t", "type": "quantitative", "scale": {"domain": [0, 30], "nice": false, "zero": false}, "axis": {"orient": "bottom", "values": [0, 10, 20, 30], "labelFont": "Liberation Serif", "labelFontSize": 10.5, "labelPadding": 7, "title": "time(sec)", "titleFont": "Liberation Serif", "titleFontSize": 10.5, "titleY": 11, "titleBaseline": "middle"}},
     "y": {"field": "y", "type": "quantitative", "scale": {"domain": [-0.5, 0.5], "nice": false}, "axis": {"orient": "left", "values": [-0.5, 0, 0.5], "labelExpr": "datum.value == 0 ? '0' : (datum.value > 0 ? '0.5' : '−0.5')", "labelFont": "Liberation Serif", "labelFontSize": 10.5, "labelPadding": 7, "title": "outputs", "titleFont": "Liberation Serif", "titleFontSize": 10, "titleX": -20, "titleY": 37.5, "titleBaseline": "middle"}}}},
   {"data": {"name": "d"}, "mark": {"type": "line", "opacity": 0},
    "encoding": {
     "x": {"field": "t", "type": "quantitative", "axis": {"orient": "top", "values": [10, 20], "labels": false, "title": null}},
     "y": {"field": "y", "type": "quantitative", "axis": {"orient": "right", "values": [0], "labels": false, "title": null}}}}
  ],
  "resolve": {"axis": {"x": "independent", "y": "independent"}}
 }]
},
{
 "title": {"text": "(e) Amplitude modulation", "orient": "bottom", "anchor": "middle", "font": "Liberation Serif", "fontSize": 17, "fontWeight": "normal", "offset": 14},
 "vconcat": [{
  "width": 541, "height": 75,
  "title": {"text": "amplitude modulation(τ₁=0.23, 0~10sec: u₀=0.6, 10~20sec: u₀=0.9, 20~30sec: u₀=0.6)", "font": "Liberation Serif", "fontSize": 11, "fontWeight": "normal", "offset": -2, "frame": "group", "anchor": "middle"},
  "layer": [
   {"data": {"name": "e"}, "mark": {"type": "line", "color": "#1e821e", "strokeWidth": 2.8, "interpolate": "basis"},
    "encoding": {
     "x": {"field": "t", "type": "quantitative", "scale": {"domain": [0, 30], "nice": false, "zero": false}, "axis": {"orient": "bottom", "values": [0, 10, 20, 30], "labelFont": "Liberation Serif", "labelFontSize": 10.5, "labelPadding": 7, "title": "time(sec)", "titleFont": "Liberation Serif", "titleFontSize": 10.5, "titleY": 11, "titleBaseline": "middle"}},
     "y": {"field": "y", "type": "quantitative", "scale": {"domain": [-0.5, 0.5], "nice": false}, "axis": {"orient": "left", "values": [-0.5, 0, 0.5], "labelExpr": "datum.value == 0 ? '0' : (datum.value > 0 ? '0.5' : '−0.5')", "labelFont": {"condition": {"test": "datum.value < 0", "value": "Liberation Serif"}, "value": "Liberation Sans"}, "labelFontSize": {"condition": {"test": "datum.value < 0", "value": 10.5}, "value": 12}, "labelPadding": 7, "title": "outputs", "titleFont": "Liberation Serif", "titleFontSize": 10, "titleX": -20, "titleY": 37.5, "titleBaseline": "middle"}}}},
   {"data": {"name": "e"}, "mark": {"type": "line", "opacity": 0},
    "encoding": {
     "x": {"field": "t", "type": "quantitative", "axis": {"orient": "top", "values": [10, 20], "labels": false, "title": null}},
     "y": {"field": "y", "type": "quantitative", "axis": {"orient": "right", "values": [0], "labels": false, "title": null}}}}
  ],
  "resolve": {"axis": {"x": "independent", "y": "independent"}}
 }]
},
{
 "title": {"text": "(f) Keeping pattern to variations in the input signal", "orient": "bottom", "anchor": "middle", "font": "Liberation Serif", "fontSize": 17, "fontWeight": "normal", "offset": 14},
 "vconcat": [{
  "width": 541, "height": 75,
  "title": {"text": "adaptive Matsuoka’s neural oscillator network(τ₁=0.23, 0~5sec: s(t)=sin 3t, 5~30sec: s(t)=sin 3~4.5t)", "font": "Liberation Serif", "fontSize": 11, "fontWeight": "normal", "offset": -2, "frame": "group", "anchor": "middle"},
  "layer": [
   {"data": {"name": "g"}, "mark": {"type": "line", "color": "#d0d0d0", "strokeWidth": 2.6, "interpolate": "natural"},
    "encoding": {
     "x": {"field": "t", "type": "quantitative", "scale": {"domain": [0, 30], "nice": false, "zero": false}, "axis": {"orient": "bottom", "values": [0, 10, 20, 30], "labelFont": "Liberation Serif", "labelFontSize": 10.5, "labelPadding": 7, "title": "time(sec)", "titleFont": "Liberation Sans", "titleFontSize": 9.5, "titleY": 11, "titleBaseline": "middle"}},
     "y": {"field": "y", "type": "quantitative", "scale": {"domain": [-0.5, 0.5], "nice": false}, "axis": {"orient": "left", "values": [-0.5, 0, 0.5], "labelExpr": "datum.value == 0 ? '0' : (datum.value > 0 ? '0.5' : '−0.5')", "labelFont": "Liberation Serif", "labelFontSize": 10.5, "labelPadding": 7, "title": "outputs", "titleFont": "Liberation Serif", "titleFontSize": 10, "titleX": -20, "titleY": 37.5, "titleBaseline": "middle"}}}},
   {"data": {"name": "f"}, "mark": {"type": "line", "color": "#1e821e", "strokeWidth": 2.8, "interpolate": "natural"},
    "encoding": {
     "x": {"field": "t", "type": "quantitative", "axis": {"orient": "top", "values": [10, 20], "labels": false, "title": null}},
     "y": {"field": "y", "type": "quantitative", "axis": {"orient": "right", "values": [0], "labels": false, "title": null}}}}
  ],
  "resolve": {"axis": {"x": "independent", "y": "independent"}}
 }]
}
]
}
